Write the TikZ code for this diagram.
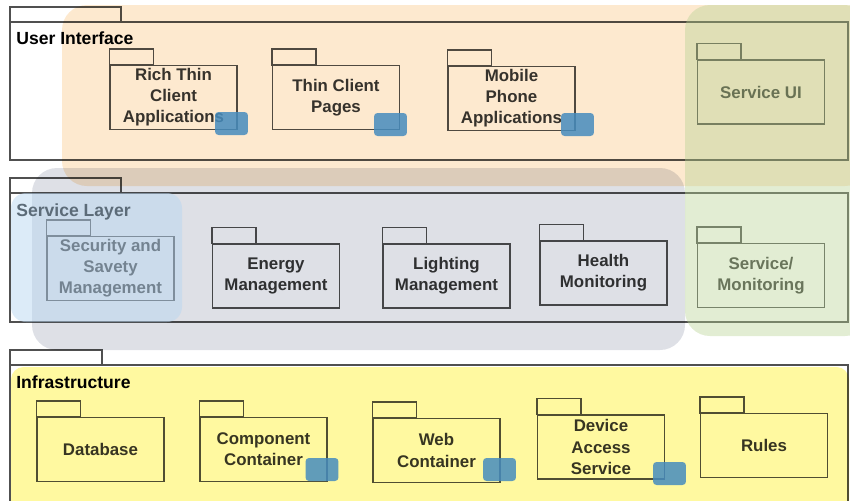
\documentclass[tikz,border=0pt]{standalone}
\usepackage{fontspec}
\setmainfont{Liberation Sans}
\usepackage{xcolor}
\usepackage{tikz}
\usetikzlibrary{positioning,calc}

\definecolor{linegray}{RGB}{80,80,80}
\definecolor{textgray}{RGB}{55,55,55}
\definecolor{uiorange}{RGB}{253,233,207}
\definecolor{svgray}{RGB}{222,224,230}
\definecolor{svgreen}{RGB}{182,210,145}
\definecolor{secblue}{RGB}{185,215,241}
\definecolor{infyellow}{RGB}{255,249,160}
\definecolor{markblue}{RGB}{70,140,190}

\begin{document}
\begin{tikzpicture}[x=0.02cm, y=-0.02cm,
    pkg/.style={draw=linegray, line width=0.8pt, minimum width=2.54cm, minimum height=1.28cm, inner sep=1pt, align=center, text=textgray, font=\fontsize{9.6}{12}\selectfont\bfseries},
    layertitle/.style={anchor=west, inner sep=0pt, text=black, font=\fontsize{10}{12}\selectfont\bfseries},
    layerbox/.style={draw=linegray, line width=0.8pt},
    pkgtab/.style={draw=linegray, line width=0.8pt},
    glass/.style={blend mode=multiply, rounded corners=0.5cm},
    bluemark/.style={fill=markblue, fill opacity=0.85, rounded corners=2pt, minimum width=0.66cm, minimum height=0.46cm, inner sep=0pt}]
    \clip (0,0) rectangle (850,501);

    % Layer frames
    \draw[layerbox] (10,7) rectangle (121,22);
    \draw[layerbox] (10,22) rectangle (848,160);
    \draw[layerbox] (10,178) rectangle (121,193);
    \draw[layerbox] (10,193) rectangle (848,322);
    \draw[layerbox] (10,350) rectangle (102,365);
    \draw[layerbox] (10,365) rectangle (848,510);

    \node[layertitle] (uititle) at (16,38) {User Interface};
    \node[layertitle] (svtitle) at (16,212) {Service Layer};
    \node[layertitle] (inftitle) at (16,382) {Infrastructure};

    % User Interface packages
    \node[pkg] (rich) at (173.5,97.5) {Rich Thin\\Client\\Applications};
    \node[pkg] (thin) at (336,97.5) {Thin Client\\Pages};
    \node[pkg] (mobile) at (511.5,98.5) {Mobile\\Phone\\Applications};
    \node[pkg] (serviceui) at (761,92) {Service UI};

    % Service Layer packages
    \node[pkg] (security) at (110.5,268.5) {Security and\\Savety\\Management};
    \node[pkg] (energy) at (276,276) {Energy\\Management};
    \node[pkg] (lighting) at (446.5,276) {Lighting\\Management};
    \node[pkg] (health) at (603.5,273) {Health\\Monitoring};
    \node[pkg] (servmon) at (761,275.5) {Service/\\Monitoring};

    % Infrastructure packages
    \node[pkg] (database) at (100.5,449.5) {Database};
    \node[pkg] (component) at (263.5,449.5) {Component\\Container};
    \node[pkg] (web) at (436.5,450.5) {Web\\Container};
    \node[pkg] (device) at (601,447) {Device\\Access\\Service};
    \node[pkg] (rules) at (764,445.5) {Rules};

    % Package tabs
    \foreach \p in {rich,thin,mobile,serviceui,security,energy,lighting,health,servmon,database,component,web,device,rules}
        \draw[pkgtab] (\p.north west) rectangle ++(44,-16);

    % Highlight areas
    \fill[glass, fill=uiorange] (62,5) rectangle (870,186);
    \fill[glass, fill=svgray] (32,168) rectangle (685,350);
    \fill[fill=svgreen, fill opacity=0.4, rounded corners=0.5cm] (685,5) rectangle (870,336);
    \fill[fill=secblue, fill opacity=0.5, rounded corners=0.3cm] (11,193) rectangle (182,322);
    \fill[glass, fill=infyellow, rounded corners=0.25cm] (11,367) rectangle (849,520);

    % Blue markers
    \node[bluemark] (m1) at (231.5,123.5) {};
    \node[bluemark] (m2) at (390.5,124.5) {};
    \node[bluemark] (m3) at (577.5,124.5) {};
    \node[bluemark] (m4) at (322,469.5) {};
    \node[bluemark] (m5) at (499.5,469.5) {};
    \node[bluemark] (m6) at (669.5,473.5) {};
\end{tikzpicture}
\end{document}
